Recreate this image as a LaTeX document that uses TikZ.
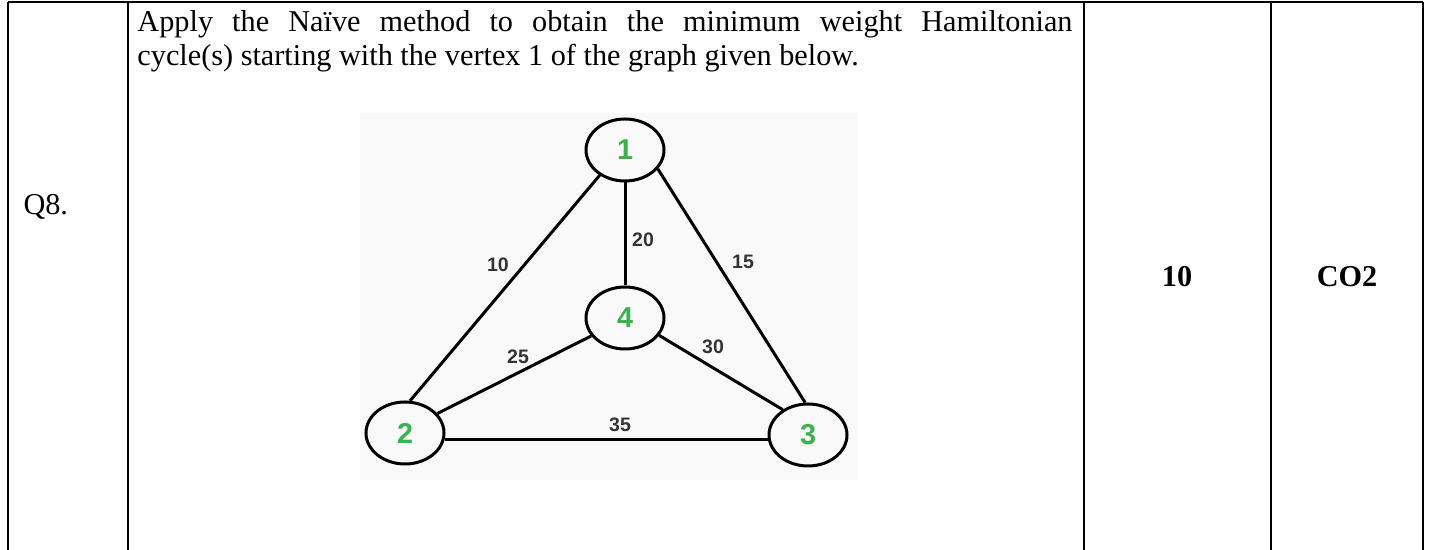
\documentclass[tikz,border=0pt]{standalone}
\usepackage{fontspec}
\setmainfont{Liberation Serif}
\newfontfamily\graphfont{Liberation Sans}
\usetikzlibrary{shapes.geometric,positioning}
\definecolor{vertexgreen}{RGB}{58,178,78}
\definecolor{photobg}{RGB}{249,249,249}
\newlength\pxlen
\setlength\pxlen{0.4pt}

\begin{document}
\begin{tikzpicture}[
    x=0.4pt, y=-0.4pt,
    vertex/.style={ellipse, draw, line width=3\pxlen, minimum width=78\pxlen, minimum height=62\pxlen, inner sep=0pt, text=vertexgreen, font=\graphfont\fontsize{11.5}{13}\selectfont\bfseries},
    edge/.style={line width=3\pxlen},
    weight/.style={inner sep=1pt, text=black!80, font=\graphfont\fontsize{7.8}{9}\selectfont\bfseries},
    rule/.style={line width=2\pxlen},
    cell/.style={inner sep=0pt, font=\fontsize{12.1}{13.6}\selectfont}
]
    \useasboundingbox (0,0) rectangle (1429,550);

    % Table rules
    \draw[rule] (8,2) -- (1423,2);
    \foreach \xcol in {8,128,1084,1271,1423}
        \draw[rule] (\xcol,2) -- (\xcol,550);

    % Cells
    \node[cell, anchor=base west] (qno) at (23,215) {Q8.};
    \node[cell, anchor=base west, text width=935\pxlen, align=justify] (question) at (137,32)
        {Apply the Naïve method to obtain the minimum weight Hamiltonian\linebreak cycle(s) starting with the vertex 1 of the graph given below.};
    \node[cell, anchor=base, font=\fontsize{12.1}{13.6}\selectfont\bfseries] (marks) at (1177,287) {10};
    \node[cell, anchor=base, font=\fontsize{12.1}{13.6}\selectfont\bfseries] (co) at (1347,287) {CO2};

    % Graph picture
    \fill[photobg] (360,113) rectangle (858,480);

    % Vertices
    \node[vertex] (v1) at (625,150) {1};
    \node[vertex] (v4) at (625,318) {4};
    \node[vertex] (v2) at (405,433) {2};
    \node[vertex] (v3) at (808,435) {3};

    % Edges
    \draw[edge] (v1.225) -- (v2.81);
    \draw[edge] (v1.south) -- (v4.north);
    \draw[edge] (v1.-30) -- (v3.95);
    \draw[edge] (v4.208) -- (v2.31);
    \draw[edge] (v4.-27) -- (v3.135);
    \draw[edge] (v2.-10) -- (v2.-10 -| v3.west);

    % Weights
    \node[weight] (w12) at (498,265) {10};
    \node[weight] (w14) at (643,240) {20};
    \node[weight] (w13) at (743,262) {15};
    \node[weight] (w24) at (518,357) {25};
    \node[weight] (w34) at (713,347) {30};
    \node[weight] (w23) at (620,425) {35};
\end{tikzpicture}
\end{document}
